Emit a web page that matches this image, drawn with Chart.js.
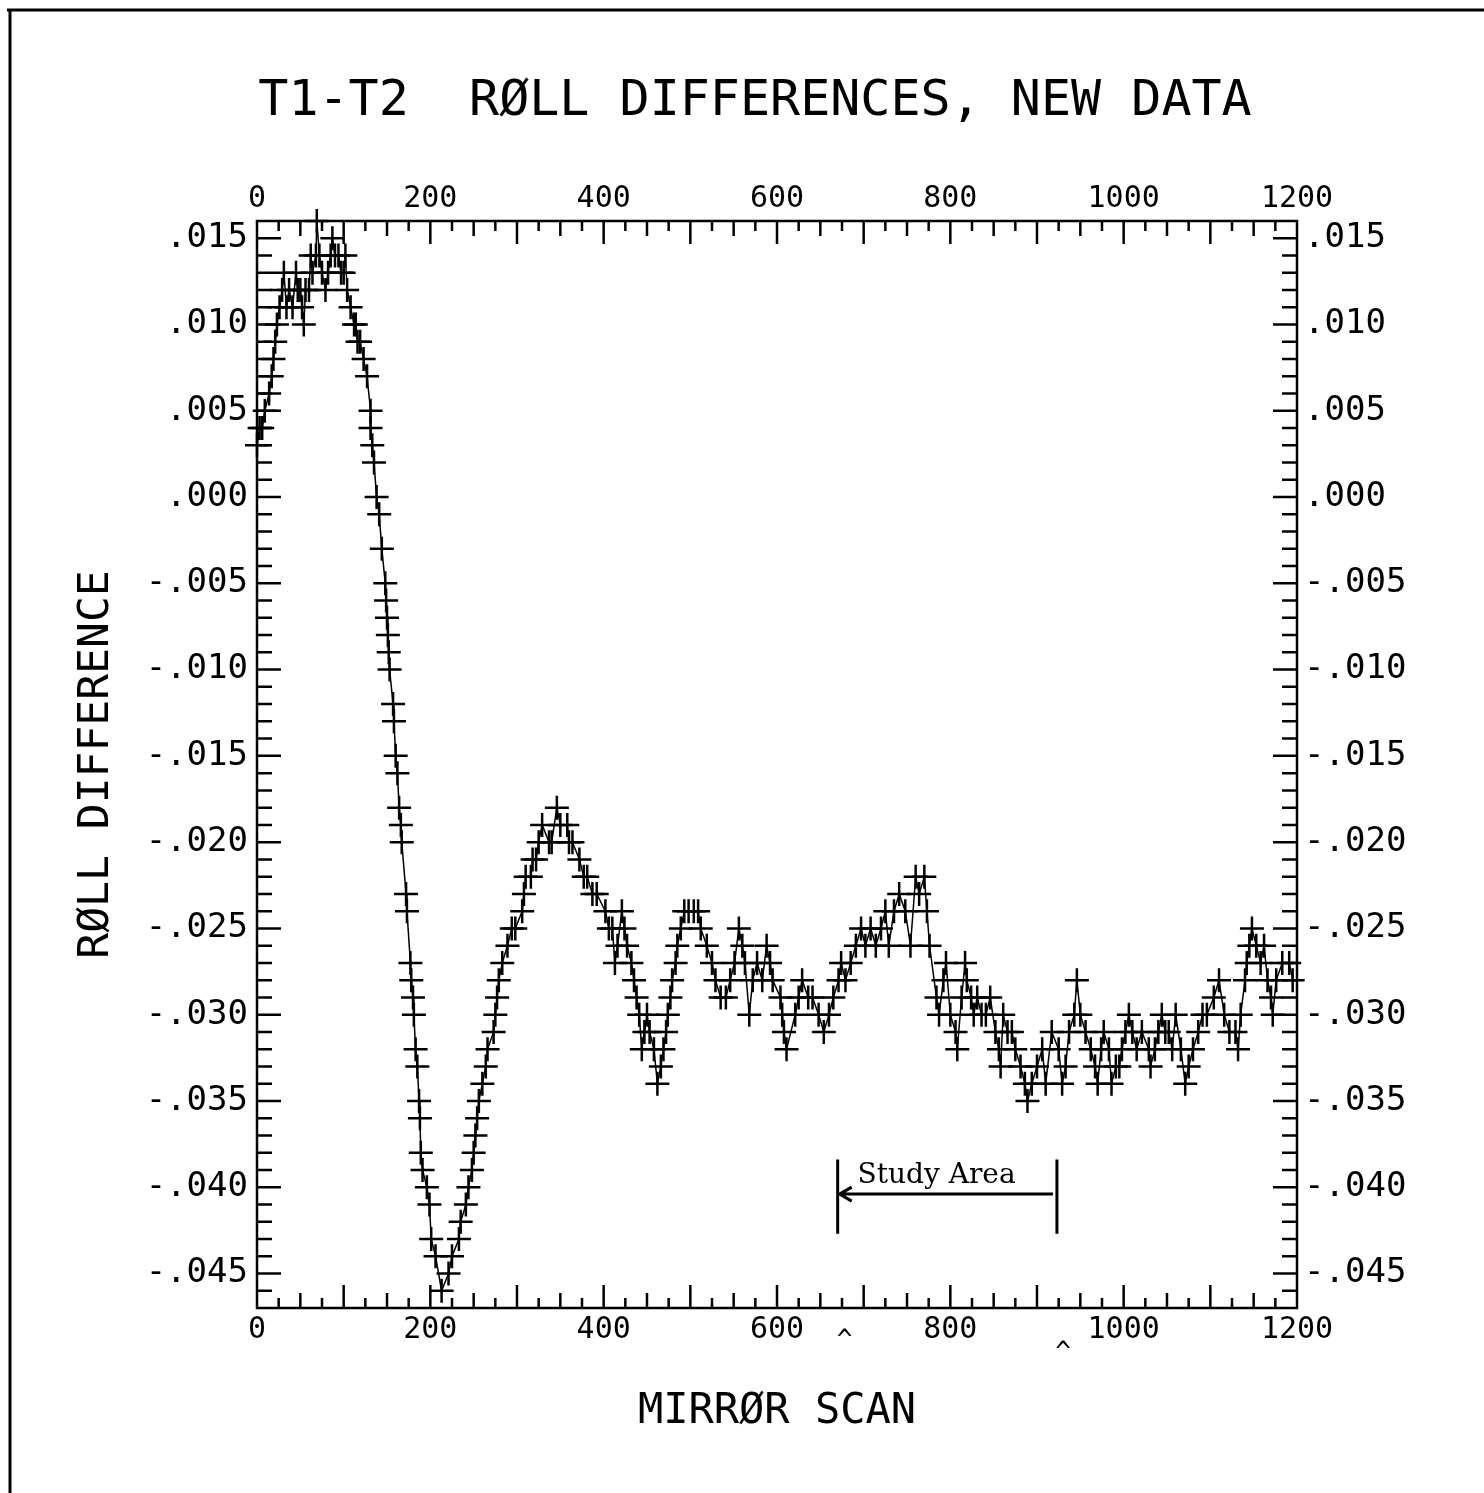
<!DOCTYPE html>
<html>
<head>
<meta charset="utf-8">
<title>T1-T2 Roll Differences</title>
<script src="https://cdn.jsdelivr.net/npm/chart.js@4.4.1/dist/chart.umd.min.js"></script>
<style>
  html, body { margin: 0; padding: 0; background: #fff; }
  canvas { display: block; }
</style>
</head>
<body>
<canvas id="rollChart" width="1484" height="1493"></canvas>
<script>
// mirror scan number of each sample
const scanX = [
    0, 3, 6, 9, 14, 17, 19, 21, 23, 26, 29, 31, 34, 37, 41, 45, 47, 50, 52, 54,
    56, 60, 62, 64, 68, 69, 72, 75, 79, 82, 85, 87, 90, 94, 97, 100, 102, 104, 108, 112,
    114, 116, 119, 123, 127, 131, 131, 133, 135, 138, 141, 144, 148, 149, 150, 151, 152, 153, 157, 158,
    160, 162, 164, 166, 167, 172, 173, 177, 178, 180, 181, 183, 185, 187, 188, 189, 191, 196, 199, 201,
    206, 213, 221, 225, 233, 235, 241, 244, 248, 250, 252, 254, 256, 260, 264, 266, 273, 275, 277, 279,
    283, 289, 294, 298, 306, 308, 310, 316, 318, 322, 325, 329, 337, 340, 346, 350, 358, 360, 364, 372,
    377, 381, 387, 392, 402, 406, 410, 413, 416, 421, 424, 427, 432, 435, 438, 441, 444, 447, 450, 453,
    458, 462, 466, 469, 472, 474, 477, 479, 483, 485, 489, 493, 498, 504, 509, 512, 519, 525, 529, 535,
    541, 546, 551, 556, 560, 563, 568, 572, 577, 583, 588, 592, 595, 604, 606, 608, 611, 621, 625, 629,
    636, 641, 648, 654, 660, 665, 671, 674, 679, 685, 691, 697, 702, 708, 714, 720, 725, 729, 735, 741,
    748, 754, 760, 764, 770, 773, 776, 784, 787, 792, 795, 800, 806, 808, 813, 817, 819, 824, 827, 831,
    836, 841, 846, 852, 856, 858, 861, 866, 871, 875, 881, 886, 889, 894, 900, 906, 910, 917, 925, 929,
    933, 937, 943, 946, 950, 956, 962, 967, 970, 974, 977, 983, 986, 991, 995, 998, 1002, 1006, 1010, 1015,
    1021, 1029, 1031, 1036, 1040, 1044, 1048, 1052, 1056, 1060, 1066, 1071, 1075, 1080, 1086, 1091, 1096, 1104, 1110, 1116,
    1122, 1129, 1132, 1135, 1140, 1142, 1145, 1148, 1153, 1158, 1162, 1166, 1170, 1172, 1176, 1183, 1191, 1195
];

// T1-T2 roll difference at each scan
const rollDiff = [
    .003, .004, .004, .005, .006, .007, .008, .009, .010, .011, .012, .013, .011, .012, .011, .013, .012, .012, .011, .010,
    .012, .012, .014, .013, .014, .016, .014, .013, .012, .013, .014, .015, .014, .014, .013, .013, .014, .012, .011, .010,
    .010, .009, .009, .008, .007, .005, .004, .003, .002, .000, -.001, -.003, -.005, -.006, -.007, -.008, -.009, -.010, -.012, -.013,
    -.015, -.016, -.018, -.019, -.020, -.023, -.024, -.027, -.028, -.029, -.030, -.032, -.033, -.035, -.036, -.038, -.039, -.040, -.041, -.043,
    -.044, -.046, -.045, -.044, -.043, -.042, -.041, -.040, -.039, -.038, -.037, -.036, -.035, -.034, -.033, -.032, -.031, -.030, -.029, -.028,
    -.027, -.026, -.025, -.025, -.024, -.023, -.022, -.022, -.021, -.021, -.020, -.019, -.020, -.020, -.018, -.019, -.019, -.020, -.020, -.021,
    -.022, -.022, -.023, -.023, -.024, -.025, -.025, -.027, -.026, -.024, -.025, -.026, -.027, -.028, -.029, -.030, -.032, -.031, -.030, -.031,
    -.032, -.034, -.033, -.032, -.031, -.030, -.029, -.028, -.027, -.026, -.025, -.024, -.024, -.024, -.024, -.025, -.026, -.027, -.028, -.029,
    -.029, -.028, -.027, -.025, -.026, -.027, -.030, -.028, -.027, -.028, -.026, -.027, -.028, -.029, -.030, -.031, -.032, -.030, -.029, -.028,
    -.029, -.029, -.030, -.031, -.030, -.029, -.028, -.027, -.028, -.027, -.026, -.025, -.026, -.025, -.026, -.025, -.024, -.026, -.024, -.023,
    -.024, -.026, -.022, -.023, -.022, -.024, -.026, -.029, -.030, -.028, -.027, -.030, -.031, -.032, -.029, -.027, -.028, -.029, -.030, -.029,
    -.030, -.030, -.029, -.031, -.032, -.033, -.030, -.031, -.031, -.032, -.033, -.034, -.035, -.034, -.033, -.032, -.034, -.031, -.032, -.034,
    -.033, -.031, -.030, -.028, -.030, -.031, -.032, -.033, -.034, -.032, -.031, -.032, -.034, -.033, -.033, -.032, -.031, -.030, -.031, -.032,
    -.031, -.032, -.033, -.032, -.031, -.030, -.031, -.031, -.032, -.030, -.032, -.034, -.033, -.032, -.031, -.030, -.030, -.029, -.028, -.030,
    -.031, -.031, -.032, -.030, -.028, -.027, -.026, -.025, -.026, -.027, -.026, -.028, -.029, -.030, -.028, -.027, -.027, -.028
];

const xTickValues = [0, 200, 400, 600, 800, 1000, 1200];
const yTickValues = [-.045, -.040, -.035, -.030, -.025, -.020, -.015, -.010, -.005, 0, .005, .010, .015];
const yTickLabels = ['-.045', '-.040', '-.035', '-.030', '-.025', '-.020', '-.015', '-.010', '-.005', '.000', '.005', '.010', '.015'];

// hand-marked study area under the curve
const studyFrom = 670;
const studyTo = 923;
const studyLow = -.0427;
const studyHigh = -.0384;
const studyArrow = -.0404;
const studyText = 'Study Area';
const caretScans = [678, 930];

const W = 1484, H = 1493;
const PLOT = { left: 257, top: 221, right: 1297, bottom: 1308 };
const MONO = "'DejaVu Sans Mono', 'Liberation Mono', monospace";

Chart.defaults.font.family = MONO;
Chart.defaults.color = '#000';

const TITLE_SIZE = 50, TITLE_PAD = 72;

// inward ticks on all four sides plus the plot frame
const plotterAxes = {
    id: 'plotterAxes',
    beforeDatasetsDraw(chart) {
        const { ctx, chartArea: a, scales } = chart;
        const sx = scales.x, sy = scales.y;
        ctx.save();
        ctx.strokeStyle = '#000';
        ctx.lineWidth = 2.5;
        ctx.strokeRect(a.left, a.top, a.right - a.left, a.bottom - a.top);
        ctx.beginPath();
        for (let v = 25; v < 1200; v += 25) {
            const len = v % 100 === 0 ? 23 : (v % 50 === 0 ? 15 : 10);
            const px = sx.getPixelForValue(v);
            ctx.moveTo(px, a.bottom); ctx.lineTo(px, a.bottom - len);
            ctx.moveTo(px, a.top); ctx.lineTo(px, a.top + len);
        }
        for (let k = -46; k <= 15; k++) {
            const len = k % 5 === 0 ? 24 : 15;
            const py = sy.getPixelForValue(k / 1000);
            ctx.moveTo(a.left, py); ctx.lineTo(a.left + len, py);
            ctx.moveTo(a.right, py); ctx.lineTo(a.right - len, py);
        }
        ctx.stroke();
        ctx.restore();
    },
    beforeDraw(chart) {
        // sheet edge
        const ctx = chart.ctx;
        ctx.save();
        ctx.strokeStyle = '#000';
        ctx.lineWidth = 3;
        ctx.beginPath();
        ctx.moveTo(7, 10); ctx.lineTo(W, 10);
        ctx.moveTo(10, 10); ctx.lineTo(10, H);
        ctx.stroke();
        ctx.restore();
    }
};

const studyMarker = {
    id: 'studyMarker',
    afterDraw(chart) {
        const { ctx, scales, chartArea } = chart;
        const x0 = scales.x.getPixelForValue(studyFrom);
        const x1 = scales.x.getPixelForValue(studyTo);
        const yTop = scales.y.getPixelForValue(studyHigh);
        const yBot = scales.y.getPixelForValue(studyLow);
        const yArr = scales.y.getPixelForValue(studyArrow);
        ctx.save();
        ctx.strokeStyle = '#000';
        ctx.lineWidth = 3;
        ctx.beginPath();
        ctx.moveTo(x0, yTop); ctx.lineTo(x0, yBot);
        ctx.moveTo(x1, yTop); ctx.lineTo(x1, yBot);
        ctx.stroke();
        ctx.lineWidth = 3;
        ctx.beginPath();
        ctx.moveTo(x0 + 2, yArr); ctx.lineTo(x1 - 4, yArr);
        ctx.moveTo(x0 + 14, yArr - 7); ctx.lineTo(x0 + 2, yArr); ctx.lineTo(x0 + 14, yArr + 7);
        ctx.stroke();
        ctx.fillStyle = '#000';
        ctx.font = "28px 'DejaVu Serif', 'Liberation Serif', serif";
        ctx.textAlign = 'left';
        ctx.textBaseline = 'alphabetic';
        ctx.fillText(studyText, scales.x.getPixelForValue(693), yArr - 11);
        // pencil carets under the axis
        ctx.font = '26px ' + MONO;
        ctx.textAlign = 'center';
        ctx.textBaseline = 'top';
        caretScans.forEach((s, i) => {
            ctx.fillText('^', scales.x.getPixelForValue(s), chartArea.bottom + 20 + i * 12);
        });
        ctx.restore();
    }
};

function yLabel(value) {
    const i = yTickValues.findIndex(v => Math.abs(v - value) < 1e-9);
    return i < 0 ? '' : yTickLabels[i];
}

const hiddenGrid = { display: true, drawOnChartArea: false, drawTicks: false, color: 'rgba(0,0,0,0)' };

const ctx = document.getElementById('rollChart').getContext('2d');
new Chart(ctx, {
    type: 'line',
    data: {
        datasets: [{
            data: scanX.map((x, i) => ({ x: x, y: rollDiff[i] })),
            borderColor: '#000',
            borderWidth: 1.5,
            pointStyle: 'cross',
            pointRadius: 12,
            pointBorderWidth: 2.5,
            pointBorderColor: '#000',
            tension: 0,
            clip: false
        }]
    },
    options: {
        responsive: false,
        animation: false,
        layout: { padding: { left: 26, right: 0, top: 0, bottom: 0 } },
        plugins: {
            legend: { display: false },
            tooltip: { enabled: false },
            title: {
                display: true,
                text: 'T1-T2  RØLL DIFFERENCES, NEW DATA',
                font: { size: TITLE_SIZE, weight: 'normal', lineHeight: 1.2 },
                color: '#000',
                padding: { top: TITLE_PAD, bottom: 0 }
            }
        },
        scales: {
            x: {
                type: 'linear', position: 'bottom', min: 0, max: 1200,
                afterBuildTicks: s => { s.ticks = xTickValues.map(v => ({ value: v })); },
                afterFit: s => { s.height = H - PLOT.bottom; },
                ticks: { font: { size: 30 }, padding: 4, maxRotation: 0, autoSkip: false, callback: v => String(v) },
                grid: hiddenGrid,
                border: { display: false },
                title: { display: true, text: 'MIRRØR SCAN', font: { size: 42 }, padding: { bottom: 56 } }
            },
            x2: {
                type: 'linear', position: 'top', min: 0, max: 1200,
                afterBuildTicks: s => { s.ticks = xTickValues.map(v => ({ value: v })); },
                afterFit: s => { s.height = PLOT.top - (TITLE_PAD + TITLE_SIZE * 1.2); },
                ticks: { font: { size: 30 }, padding: 4, maxRotation: 0, autoSkip: false, callback: v => String(v) },
                grid: hiddenGrid,
                border: { display: false }
            },
            y: {
                type: 'linear', position: 'left', min: -.047, max: .016,
                afterBuildTicks: s => { s.ticks = yTickValues.map(v => ({ value: v })); },
                afterFit: s => { s.width = PLOT.left - 26; },
                ticks: { font: { size: 34 }, padding: 9, autoSkip: false, callback: yLabel },
                grid: hiddenGrid,
                border: { display: false },
                title: { display: true, text: 'RØLL DIFFERENCE', font: { size: 43 }, padding: { top: 45 } }
            },
            y2: {
                type: 'linear', position: 'right', min: -.047, max: .016,
                afterBuildTicks: s => { s.ticks = yTickValues.map(v => ({ value: v })); },
                afterFit: s => { s.width = W - PLOT.right; },
                ticks: { font: { size: 34 }, padding: 7, autoSkip: false, callback: yLabel },
                grid: hiddenGrid,
                border: { display: false }
            }
        }
    },
    plugins: [plotterAxes, studyMarker]
});
</script>
</body>
</html>
